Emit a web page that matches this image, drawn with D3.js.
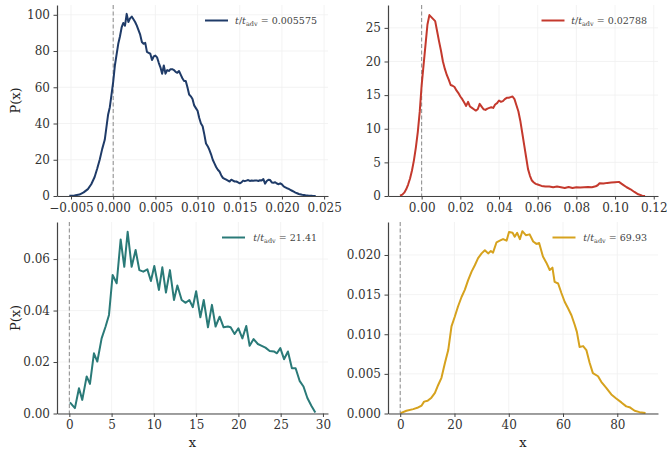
<!DOCTYPE html>
<html><head><meta charset="utf-8">
<script src="https://cdn.jsdelivr.net/npm/d3@7"></script>
<style>
html,body{margin:0;padding:0;background:#fff;}
svg{display:block;}
text{font-family:"DejaVu Serif",serif;}
</style></head>
<body><svg id="chart" width="667" height="449"></svg>
<script>
// ---- data ----
const labels = ["0.005575", "0.02788", "21.41", "69.93"];
const colors = ["#1f3b68", "#c4392d", "#2a7a78", "#d6a21e"];

const x1 = [-0.0052,-0.0046,-0.0040,-0.0035,-0.0030,-0.0026,-0.0022,-0.0019,-0.0016,-0.0013,-0.0010,-0.0008,-0.0006,-0.0004,-0.0002,0.0000,0.0002,0.0004,0.0006,0.0008,0.0010,0.0012,0.0014,0.0016,0.0018,0.0020,0.0022,0.0024,0.0026,0.0028,0.0030,0.0032,0.0034,0.0036,0.0038,0.0040,0.0042,0.0044,0.0046,0.0048,0.0050,0.0052,0.0054,0.0056,0.0058,0.0060,0.0062,0.0064,0.0066,0.0068,0.0070,0.0072,0.0074,0.0076,0.0078,0.0080,0.0082,0.0084,0.0086,0.0088,0.0090,0.0092,0.0094,0.0096,0.0098,0.0100,0.0102,0.0104,0.0106,0.0108,0.0110,0.0112,0.0114,0.0116,0.0118,0.0120,0.0122,0.0124,0.0126,0.0128,0.0130,0.0132,0.0134,0.0136,0.0138,0.0140,0.0142,0.0144,0.0146,0.0148,0.0150,0.0152,0.0154,0.0156,0.0158,0.0160,0.0162,0.0164,0.0166,0.0168,0.0170,0.0172,0.0174,0.0176,0.0178,0.0180,0.0182,0.0184,0.0186,0.0188,0.0190,0.0192,0.0194,0.0196,0.0198,0.0200,0.0202,0.0204,0.0206,0.0208,0.0210,0.0212,0.0214,0.0216,0.0218,0.0220,0.0224,0.0228,0.0232,0.0236,0.0240];
const y1 = [0.2,0.3,0.8,2.0,3.8,6.5,10.5,15,20,26,31,38,45,49,56,63,72,78,84,88,93,95.5,94,100.5,96,98,99,97.5,96,94,91.5,89,85,84,84.5,79.5,79,78.5,75,77,77.5,76.5,73.5,71,67.5,72,67.5,69.5,69,70,70,69.5,68.5,68,69,67,65,63.5,63.5,60,56,55,53.5,50,48.5,47,43,40,38.5,34,29,27.5,25.5,23,20,18,16,14.5,13.5,11.5,10,9.5,9,8.5,8,9,8.5,8,8,7.5,7,7.5,8.5,8.2,8.5,8.8,8.3,8.5,8.4,8.5,8.6,8.3,8.7,8.6,9.3,6.8,8.3,9.0,8.8,7.5,7.3,7.6,6.9,6.5,7.0,6.4,5.3,4.8,4.3,3.9,3.4,2.9,2.4,1.9,1.5,1.1,0.7,0.4,0.2,0.1,0.05];

const x2 = [-0.0112,-0.0100,-0.0090,-0.0080,-0.0070,-0.0060,-0.0050,-0.0040,-0.0030,-0.0020,-0.0010,0.0000,0.0010,0.0020,0.0030,0.0040,0.0050,0.0060,0.0070,0.0080,0.0090,0.0100,0.0110,0.0120,0.0130,0.0140,0.0150,0.0160,0.0170,0.0180,0.0190,0.0200,0.0210,0.0220,0.0230,0.0240,0.0250,0.0260,0.0270,0.0280,0.0290,0.0300,0.0310,0.0320,0.0330,0.0340,0.0350,0.0360,0.0370,0.0380,0.0390,0.0400,0.0410,0.0420,0.0430,0.0440,0.0450,0.0460,0.0470,0.0480,0.0490,0.0500,0.0510,0.0520,0.0530,0.0540,0.0550,0.0560,0.0570,0.0580,0.0590,0.0600,0.0620,0.0640,0.0660,0.0680,0.0700,0.0720,0.0740,0.0760,0.0780,0.0800,0.0820,0.0840,0.0860,0.0880,0.0900,0.0910,0.0920,0.0940,0.0960,0.0980,0.1000,0.1020,0.1040,0.1060,0.1080,0.1100,0.1120,0.1140,0.1155];
const y2 = [0.05,0.2,0.5,1.0,1.7,2.6,3.8,5.3,7.2,9.5,12.5,16.5,19.5,22.5,25.5,26.9,26.6,26.3,26.0,24.5,23.0,21.6,20.0,18.9,18.0,17.3,16.5,16.4,16.2,15.7,15.3,14.8,14.4,13.9,13.4,14.0,13.3,13.1,12.9,12.7,12.9,13.7,13.3,12.9,12.8,13.0,13.1,13.2,13.1,13.6,13.8,14.2,14.0,14.1,14.4,14.6,14.6,14.7,14.8,14.4,13.5,12.6,11.2,9.4,7.6,5.8,4.0,3.0,2.3,2.0,1.8,1.7,1.5,1.4,1.4,1.3,1.4,1.3,1.2,1.35,1.2,1.3,1.25,1.3,1.35,1.3,1.45,1.6,1.9,1.85,1.95,2.0,2.05,2.1,1.7,1.3,1.0,0.6,0.25,0.05,0.0];

const x3 = [0.07,0.66,1.14,1.53,2.05,2.44,2.91,3.31,3.82,4.29,4.69,5.12,5.6,6.07,6.5,6.9,7.37,7.84,8.28,8.75,9.23,9.65,10.05,10.6,11.0,11.43,11.9,12.38,12.78,13.29,13.76,14.2,14.6,15.0,15.5,15.9,16.4,16.87,17.3,17.78,18.25,18.76,19.08,19.55,20.0,20.47,20.93,21.33,21.8,22.3,22.7,23.2,23.7,24.2,24.56,24.96,25.4,25.86,26.33,26.77,27.24,27.7,28.16,28.63,29.1];
const y3 = [0.0043,0.0021,0.0098,0.0053,0.0144,0.0115,0.0234,0.0202,0.0292,0.0338,0.0383,0.0538,0.0506,0.0676,0.057,0.0706,0.057,0.0635,0.0557,0.0551,0.056,0.0515,0.0573,0.048,0.0568,0.047,0.0557,0.0441,0.0497,0.0441,0.043,0.0441,0.0413,0.0475,0.0374,0.0441,0.0335,0.0422,0.0338,0.0376,0.0335,0.0338,0.0335,0.0309,0.0331,0.0292,0.034,0.0263,0.0289,0.027,0.0264,0.0256,0.0243,0.0241,0.0234,0.0254,0.0211,0.0241,0.0176,0.0176,0.0127,0.0105,0.006,0.003,0.0004];

const x4 = [0.15,2.3,4.8,6.6,7.9,8.8,10.1,11.5,12.8,14.0,15.2,16.5,17.7,18.9,20.1,21.3,22.6,23.8,25.0,26.3,27.5,28.7,30.0,31.2,32.4,33.4,34.2,35.5,36.7,37.9,39.2,40.1,41.4,42.2,43.1,44.1,45.0,46.3,47.7,49.0,50.2,51.2,52.6,53.9,55.1,56.1,56.9,58.2,59.4,60.6,61.8,63.1,64.3,65.1,66.1,67.4,68.6,69.8,71.0,72.9,74.1,76.0,77.8,79.6,81.5,83.3,84.5,86.4,88.2,90.4];
const y4 = [0.00005,0.00034,0.00055,0.00076,0.001,0.0015,0.0016,0.002,0.0026,0.0036,0.0045,0.0064,0.008,0.011,0.0122,0.0135,0.0147,0.0156,0.0168,0.0179,0.0187,0.0196,0.0202,0.0206,0.0202,0.0205,0.0203,0.0216,0.0218,0.022,0.0218,0.0229,0.0228,0.0223,0.0228,0.022,0.023,0.0225,0.0226,0.0217,0.0214,0.0215,0.0198,0.019,0.0181,0.0184,0.0166,0.0164,0.0152,0.0141,0.0133,0.0124,0.0112,0.0103,0.0084,0.0085,0.008,0.0064,0.0051,0.0047,0.004,0.0032,0.0024,0.0019,0.0014,0.0009,0.0008,0.00034,0.00017,0.00005];

const xTicks = [[-0.005,0,0.005,0.01,0.015,0.02,0.025],[0,0.02,0.04,0.06,0.08,0.10,0.12],[0,5,10,15,20,25,30],[0,20,40,60,80]];
const yTicks = [[0,20,40,60,80,100],[0,5,10,15,20,25],[0,0.02,0.04,0.06],[0,0.005,0.01,0.015,0.02]];
const xFormats = [".3f",".2f","d","d"];
const yFormats = ["d","d",".2f",".3f"];

// ---- layout ----
const svg = d3.select("#chart");
const panels = [
  {l:57, r:328, t:5, b:196, xd:[-0.00666,0.02546], yd:[0,105.4], xs:x1, ys:y1},
  {l:388, r:658, t:5, b:196, xd:[-0.0174,0.1222], yd:[0,28.4], xs:x2, ys:y2},
  {l:57, r:328, t:222, b:413.5, xd:[-1.46,30.6], yd:[0,0.0744], xs:x3, ys:y3},
  {l:388, r:658, t:222, b:413.5, xd:[-4.5,95], yd:[0,0.02416], xs:x4, ys:y4}
];

panels.forEach((p,i)=>{
  const x = d3.scaleLinear().domain(p.xd).range([p.l,p.r]);
  const y = d3.scaleLinear().domain(p.yd).range([p.b,p.t]);
  const g = svg.append("g");
  // grid
  g.selectAll(".gx").data(xTicks[i]).join("line")
    .attr("x1",d=>x(d)).attr("x2",d=>x(d)).attr("y1",p.t).attr("y2",p.b)
    .attr("stroke","#f0f0f0").attr("stroke-width",0.8);
  g.selectAll(".gy").data(yTicks[i]).join("line")
    .attr("x1",p.l).attr("x2",p.r).attr("y1",d=>y(d)).attr("y2",d=>y(d))
    .attr("stroke","#f0f0f0").attr("stroke-width",0.8);
  // dashed zero line
  g.append("line").attr("x1",x(0)).attr("x2",x(0)).attr("y1",p.t).attr("y2",p.b)
    .attr("stroke","#8a8a8a").attr("stroke-width",1).attr("stroke-dasharray","4,2.5");
  // curve
  const pts = p.xs.map((v,k)=>[v,p.ys[k]]);
  g.append("path").datum(pts)
    .attr("d", d3.line().x(d=>x(d[0])).y(d=>y(d[1])))
    .attr("fill","none").attr("stroke",colors[i]).attr("stroke-width",2)
    .attr("stroke-linejoin","round");
  // axes
  const fx = d3.format(xFormats[i]), fy = d3.format(yFormats[i]);
  const ax = g.append("g").attr("transform",`translate(0,${p.b})`)
    .call(d3.axisBottom(x).tickValues(xTicks[i]).tickFormat(fx).tickSize(3.5).tickSizeOuter(0).tickPadding(3.5));
  const ay = g.append("g").attr("transform",`translate(${p.l},0)`)
    .call(d3.axisLeft(y).tickValues(yTicks[i]).tickFormat(fy).tickSize(3.5).tickSizeOuter(0).tickPadding(3.5));
  [ax,ay].forEach(a=>{
    a.select(".domain").attr("stroke","#444").attr("stroke-width",1.2);
    a.selectAll(".tick line").attr("stroke","#444").attr("stroke-width",1);
    a.selectAll(".tick text").attr("fill","#333").style("font-size","12px")
      .style("font-family","'DejaVu Serif',serif");
  });
  // legend
  const lx = (i%2===0) ? (i===0?205:222) : (i===1?541.5:552.5);
  const ly = p.t + 15.5;
  g.append("line").attr("x1",lx).attr("x2",lx+23).attr("y1",ly).attr("y2",ly)
    .attr("stroke",colors[i]).attr("stroke-width",2);
  const t = g.append("text").attr("x",p.r-11).attr("y",ly+3).attr("text-anchor","end")
    .attr("fill","#444").style("font-size","9.5px");
  t.append("tspan").style("font-style","italic").text("t");
  t.append("tspan").text("/");
  t.append("tspan").style("font-style","italic").text("t");
  t.append("tspan").attr("dy",2).style("font-size","6.5px").text("adv");
  t.append("tspan").attr("dy",-2).text(" = " + labels[i]);
});

// axis labels
svg.append("text").attr("transform","translate(16,100.5) rotate(-90)")
  .attr("text-anchor","middle").attr("dominant-baseline","middle")
  .attr("fill","#222").style("font-size","13px").text("P(x)");
svg.append("text").attr("transform","translate(16,318) rotate(-90)")
  .attr("text-anchor","middle").attr("dominant-baseline","middle")
  .attr("fill","#222").style("font-size","13px").text("P(x)");
svg.append("text").attr("x",192.5).attr("y",447).attr("text-anchor","middle")
  .attr("fill","#222").style("font-size","13px").text("x");
svg.append("text").attr("x",523).attr("y",447).attr("text-anchor","middle")
  .attr("fill","#222").style("font-size","13px").text("x");
</script>
</body></html>
